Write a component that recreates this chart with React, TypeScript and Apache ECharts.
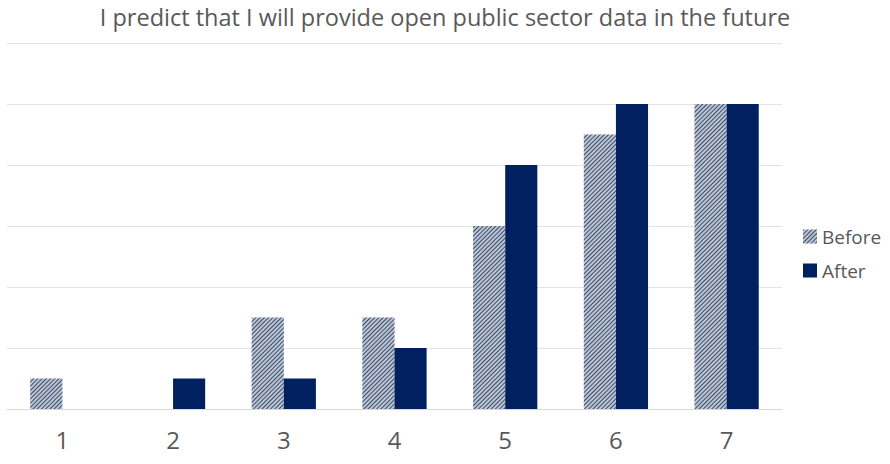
import React, { useEffect, useRef } from "react";
import * as echarts from "echarts";

const categories = ["1", "2", "3", "4", "5", "6", "7"];
const beforeValues = [1, 0, 3, 3, 6, 9, 10];
const afterValues = [0, 1, 1, 2, 8, 10, 10];
const titleText = "I predict that I will provide open public sector data in the future";

export default function App() {
  const ref = useRef<HTMLDivElement>(null);
  useEffect(() => {
    if (!ref.current) return;
    const chart = echarts.init(ref.current, undefined, { renderer: "svg" });
    chart.setOption({
      animation: false,
      title: {
        text: titleText,
        left: "center",
        top: 0,
        textStyle: { fontFamily: "Open Sans", fontSize: 23.5, fontWeight: "normal", color: "#595959" },
      },
      legend: {
        orient: "vertical",
        left: 798,
        top: 222,
        icon: "rect",
        itemWidth: 14,
        itemHeight: 14,
        itemGap: 15,
        textStyle: { fontFamily: "Open Sans", fontSize: 19, color: "#595959" },
        data: ["Before", "After"],
      },
      grid: { left: 7, right: 108, top: 43, bottom: 55, containLabel: false },
      xAxis: {
        type: "category",
        data: categories,
        axisLine: { show: true, lineStyle: { color: "#d9d9d9" } },
        axisTick: { show: false },
        axisLabel: { fontFamily: "Open Sans", fontSize: 24, color: "#595959", margin: 18 },
      },
      yAxis: {
        type: "value",
        min: 0,
        max: 12,
        interval: 2,
        axisLabel: { show: false },
        axisLine: { show: false },
        axisTick: { show: false },
        splitLine: { lineStyle: { color: "#e3e3e3" } },
      },
      series: [
        {
          name: "Before",
          type: "bar",
          data: beforeValues,
          barGap: "0%",
          barCategoryGap: "42%",
          itemStyle: {
            color: "#bcc6d3",
            decal: {
              symbol: "rect",
              color: "#3a4b6e",
              dashArrayX: [1, 0],
              dashArrayY: [1, 1.5],
              rotation: -Math.PI / 4,
              symbolSize: 1,
            },
          },
        },
        {
          name: "After",
          type: "bar",
          data: afterValues,
          itemStyle: { color: "#002060" },
        },
      ],
    });
    return () => chart.dispose();
  }, []);
  return <div ref={ref} style={{ position: "absolute", left: 0, top: 0, width: 890, height: 464 }} />;
}
